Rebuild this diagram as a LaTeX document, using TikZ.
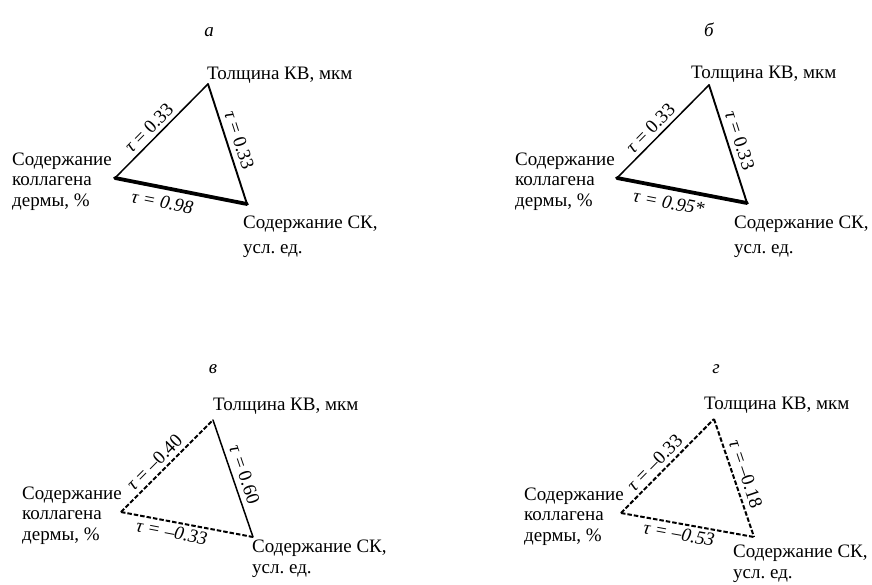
\documentclass[tikz,border=0pt]{standalone}
\usepackage{fontspec}
\setmainfont{Liberation Serif}
\frenchspacing
\begin{document}
\begin{tikzpicture}[x=1pt,y=-1pt,
  lbl/.style={font=\fontsize{19}{20.5}\selectfont, inner sep=0pt, align=left},
  taulbl/.style={font=\fontsize{19}{20}\selectfont, sloped, inner sep=4pt},
  panel/.style={font=\fontsize{19}{21}\selectfont\itshape, inner sep=0pt, anchor=base},
  thinedge/.style={line width=1.5pt, line cap=round},
  midedge/.style={line width=1.9pt, line cap=round},
  thickedge/.style={line width=3.8pt, line cap=round},
  dashedge/.style={line width=2pt, dash pattern=on 4.5pt off 2pt}]
\useasboundingbox (0,0) rectangle (872,584);

% ---------- panel a ----------
\node[panel] (pa) at (209,36) {а};
\coordinate (aT) at (208,84);
\coordinate (aL) at (115,178);
\coordinate (aR) at (247,204);
\draw[thinedge] (aL) -- node[taulbl, above, pos=0.45] (aLt) {\textit{τ} = 0.33} (aT);
\draw[midedge] (aT) -- node[taulbl, above, pos=0.5, inner sep=5pt] (aRt) {\textit{τ} = 0.33} (aR);
\draw[thickedge] (aL) -- node[taulbl, below, pos=0.38, inner sep=6pt] (aBt) {\textit{τ = 0.98}} (aR);
\node[lbl, anchor=base west] (aTop) at (207,79) {Толщина КВ, мкм};
\node[lbl, anchor=base west] (aLeft) at (12,206) {Содержание\\коллагена\\дермы, \%};
\node[lbl, anchor=base west] (aRight) at (243,253) {Содержание СК,\\[4pt]усл. ед.};

% ---------- panel b ----------
\node[panel] (pb) at (709,36) {б};
\coordinate (bT) at (709,85);
\coordinate (bL) at (617,178);
\coordinate (bR) at (747,203);
\draw[thinedge] (bL) -- node[taulbl, above, pos=0.45] (bLt) {\textit{τ} = 0.33} (bT);
\draw[midedge] (bT) -- node[taulbl, above, pos=0.5, inner sep=5pt] (bRt) {\textit{τ} = 0.33} (bR);
\draw[thickedge] (bL) -- node[taulbl, below, pos=0.42, inner sep=6pt] (bBt) {\textit{τ = 0.95*}} (bR);
\node[lbl, anchor=base west] (bTop) at (691,78) {Толщина КВ, мкм};
\node[lbl, anchor=base west] (bLeft) at (515,206) {Содержание\\коллагена\\дермы, \%};
\node[lbl, anchor=base west] (bRight) at (734,253) {Содержание СК,\\[4pt]усл. ед.};

% ---------- panel v ----------
\node[panel] (pv) at (213,373) {в};
\coordinate (vT) at (213,420);
\coordinate (vL) at (121,512);
\coordinate (vR) at (253,537);
\draw[dashedge] (vL) -- node[taulbl, above, pos=0.45] (vLt) {\textit{τ} = –0.40} (vT);
\draw[thinedge] (vT) -- node[taulbl, above, pos=0.5, inner sep=5pt] (vRt) {\textit{τ} = 0.60} (vR);
\draw[dashedge] (vL) -- node[taulbl, below, pos=0.4, inner sep=3pt] (vBt) {\textit{τ = –0.33}} (vR);
\node[lbl, anchor=base west] (vTop) at (213,410) {Толщина КВ, мкм};
\node[lbl, anchor=base west] (vLeft) at (22,540) {Содержание\\коллагена\\дермы, \%};
\node[lbl, anchor=base west] (vRight) at (252,573) {Содержание СК,\\[0.5pt]усл. ед.};

% ---------- panel g ----------
\node[panel] (pg) at (716,373) {г};
\coordinate (gT) at (714,419);
\coordinate (gL) at (621,513);
\coordinate (gR) at (754,537);
\draw[dashedge] (gL) -- node[taulbl, above, pos=0.45] (gLt) {\textit{τ} = –0.33} (gT);
\draw[dashedge] (gT) -- node[taulbl, above, pos=0.5, inner sep=5pt] (gRt) {\textit{τ} = –0.18} (gR);
\draw[dashedge] (gL) -- node[taulbl, below, pos=0.45, inner sep=3pt] (gBt) {\textit{τ = –0.53}} (gR);
\node[lbl, anchor=base west] (gTop) at (704,409) {Толщина КВ, мкм};
\node[lbl, anchor=base west] (gLeft) at (524,541) {Содержание\\коллагена\\дермы, \%};
\node[lbl, anchor=base west] (gRight) at (733,578) {Содержание СК,\\[0.5pt]усл. ед.};
\end{tikzpicture}
\end{document}
